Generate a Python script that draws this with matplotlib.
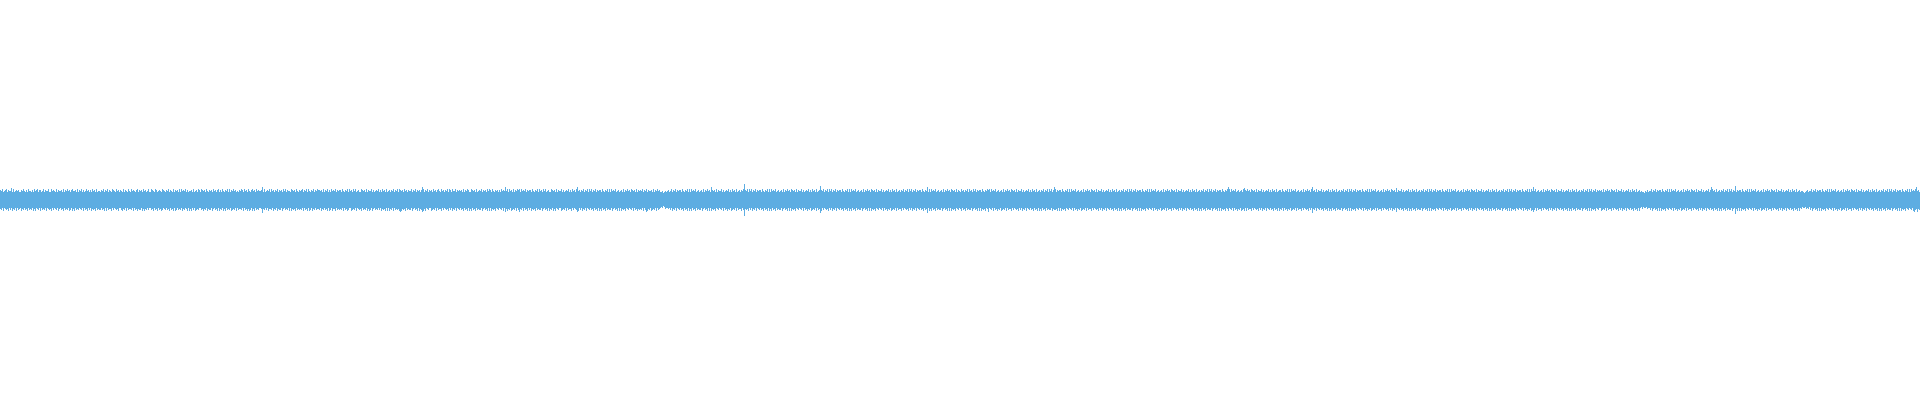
import numpy as np
import matplotlib
matplotlib.use("Agg")
import matplotlib.pyplot as plt

# Per-pixel-column waveform envelope.
# Each character is a hex digit; amplitude (in pixels from centre) = 5 + digit.
top_seg1 = ("5463456354 4736345453 3546435364 4353645635 5346354463 3645436354 4536354645 3564453635 "
            "4635346453 5364536344 3546354635 4365436453 5436354364 3645435635 4536453463 3654365345 "
            "4365435463 5436354536 3645463534 4536345365 3654536435 4536453563 5364354636 3546453435 "
            "4653645364 3564536454 4583634546 3645354635 4536463544 3654536435 4563546364 3546354655")
bot_seg1 = ("4536345463 5364536354 3645354635 4536463453 6354536345 4635345364 3546354536 5364635453 "
            "4536354635 3645463545 5354636354 4635345463 3564536354 4536354645 5364645353 3546354635 "
            "4653453546 3546365354 5364534636 4635365453 3546453645 5364354636 4536463545 3654536354 "
            "4536354646 5364635453 3484535364 4536453645 5364354536 3645463545 4536354636 5364535445")

top_seg2 = ("4536354635 3645463545 5364354636 4536463453 3654536354 4635345463 5364536345 3546354636 "
            "5453645354 4635463545 3586354635 4536453564 3645354636 5364463545 4536354653 3654536345 "
            "4635453646 5364354535 3645484636 4536354656 3645463545 5364354636 4536463453 3654536354 "
            "4635345463 5364536845 3546354636 4635463545 5364354636 3645463453 4536354645 3654536354")
bot_seg2 = ("3645354636 5364463545 4536354653 3654536345 4635453646 5364354535 3645463636 4536354546 "
            "7645463545 5364354636 4576463453 3654536354 4635345463 5364536345 3546354636 4635463545 "
            "5364354636 3645463453 4536374645 3654536357 4536354635 3645463545 5364354636 4536463453 "
            "3654536354 4635345763 5364536345 3546354636 4635463545 5364354636 3645463453 4536354645")

top_seg3 = ("5463546354 4536354645 3342343453 4635463545 5364354636 3645463453 4536354645 3854536354 "
            "4635345463 5364536345 3546b54636 4635463545 5364354636 3645463453 4536354645 3654536354 "
            "4635345463 5364536345 9546354636 4635463545 5364354636 3645463453 4536354645 3654536354 "
            "4635345463 5364536345 3546354636 4635463545 5364354836 3645463453 4536354645 3654536354")
bot_seg3 = ("4536357645 3654536354 3231243343 5364536345 3546354636 4635463545 5364354636 3645463453 "
            "4536354645 3654536354 4635b45463 5364536345 3546354636 4635463545 5364354636 3645463453 "
            "4536354645 3654536354 8635345463 5364536345 3546354636 4635463545 5364354636 3645463453 "
            "4536354645 3654536354 4635345463 5364536345 3546354836 4635463545 5364354636 3645463453")

top_seg4 = ("3645354636 4536463545 5364354656 3645463453 4536354645 3654536354 4635345463 5364536345 "
            "3546354636 4635863545 5364354636 3645463453 4536354645 3654536354 4635345463 5364536345 "
            "3546354636 4635463545 5364354636 3645463453 4536354645 3654536354 4635345463 5364536345 "
            "3546354636 4635463545 5364354686 3645463453 4536754645 3654536354 4635345463 5364536345")
bot_seg4 = ("4635463545 5364354636 3645463473 4536354645 3654536354 4635345463 5364536345 3546354636 "
            "4635463545 5364554636 3645463453 4536354645 3654536354 4635345463 5364536345 3546354636 "
            "4635463545 5364354636 3645463453 4536354645 3654536354 4635345463 5364536345 3546354636 "
            "4635463545 5364354636 3645463463 4536354645 3654636354 4635345463 5364536345 3546354636")

top_seg5 = ("5364354636 3645463453 4536354645 3684536354 4635345463 5364536345 3546354636 4635463545 "
            "5364354636 3645463453 4536354645 3654537354 4635345463 5364536345 3546354636 4635463545 "
            "5364354636 3645463453 4536354645 3654536354 4635345463 5364536345 3546354636 4635463545 "
            "5364354636 3648463453 4536354645 3654536354 4635345463 5364536345 3546354636 4635463545")
bot_seg5 = ("4536354645 3654536354 4635345463 5384536345 3546354636 4635463545 5364354636 3645463453 "
            "4536354645 3654536354 4635345463 5364537345 3546354636 4635463545 5364354636 3645463453 "
            "4536354645 3654536354 4635345463 5364536345 3546354636 4635463545 5364354636 3645463453 "
            "4536354645 3657536354 4635345463 5364536345 3546354636 4635463545 5364354636 3645463453")

top_seg6 = ("4536354645 3654536354 4635345463 5364536345 3433243534 4635463545 5364354636 3645463453 "
            "4536354645 3654536354 4635345463 5864536345 3546354636 4635493545 5364354636 3645463453 "
            "4536354645 3654536354 4635345463 5364536345 3443234534 4635463545 5364354636 3645463453 "
            "4536354645 3654536354 4635345463 5364536345 3546354636 4635463545 5364354636 3645468453")
bot_seg6 = ("3654536354 4635345463 5364536345 3546354636 3242332433 5364354636 3645463453 4536354645 "
            "3654536354 4635345463 5364536345 3546354636 4635463545 5364394636 3645463453 4536354645 "
            "3654536354 4635345463 5364536345 3546354636 3423324342 5364354636 3645463453 4536354645 "
            "3654536354 4635345463 5364536345 3546354636 4635463545 5364354636 3645463453 4536754745")

TOP = [top_seg1, top_seg2, top_seg3, top_seg4, top_seg5, top_seg6]
BOT = [bot_seg1, bot_seg2, bot_seg3, bot_seg4, bot_seg5, bot_seg6]

BASE = 5.0
COLOR = "#5DADE2"


def decode(s):
    return np.array([BASE + int(c, 16) for c in s.replace(" ", "")], dtype=float)


top = np.concatenate([decode(s) for s in TOP])
bot = np.concatenate([decode(s) for s in BOT])
n = min(len(top), len(bot))
top, bot = top[:n], bot[:n]
x = np.arange(n)

fig = plt.figure(figsize=(19.2, 4.0), dpi=100)
fig.patch.set_facecolor("white")
ax = fig.add_axes([0, 0, 1, 1])
ax.set_facecolor("white")
ax.bar(x, top + bot, bottom=-bot, width=1.0, align="edge",
       color=COLOR, linewidth=0, antialiased=False)
ax.set_xlim(0, n)
ax.set_ylim(-200.5, 199.5)
ax.axis("off")
fig.savefig("out.png", dpi=100, facecolor="white")
